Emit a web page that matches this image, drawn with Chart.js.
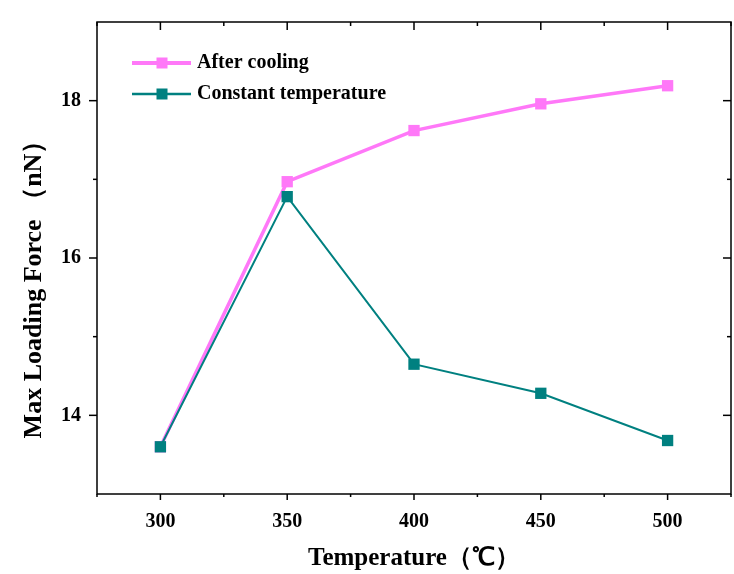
<!DOCTYPE html>
<html><head><meta charset="utf-8">
<script src="https://cdn.jsdelivr.net/npm/chart.js@4/dist/chart.umd.min.js"></script>
<style>html,body{margin:0;padding:0;background:#fff;}#wrap{width:734px;height:574px;}</style>
</head><body><div id="wrap"><canvas id="c" width="734" height="574"></canvas></div>
<script>
const temperatures = [300, 350, 400, 450, 500];
const afterCooling = [13.60, 16.97, 17.62, 17.96, 18.19];
const constantTemp = [13.60, 16.78, 14.65, 14.28, 13.68];
const xTicks = [300, 350, 400, 450, 500];
const yTicks = [14, 16, 18];
const seriesNames = ['After cooling', 'Constant temperature'];
const xTitle = 'Temperature（℃）';
const yTitle = 'Max Loading Force （nN）';

const FONT = '"Liberation Serif", "Times New Roman", serif';
const colors = ['#FF78F8', '#008080'];

const boxPlugin = {
  id: 'boxTicks',
  afterDraw(chart) {
    const ctx = chart.ctx, a = chart.chartArea;
    const xs = chart.scales.x, ys = chart.scales.y;
    ctx.save();
    ctx.strokeStyle = '#000';
    ctx.lineWidth = 1.5;
    ctx.strokeRect(a.left, a.top, a.right - a.left, a.bottom - a.top);
    const seg = (x1, y1, x2, y2) => { ctx.beginPath(); ctx.moveTo(x1, y1); ctx.lineTo(x2, y2); ctx.stroke(); };
    const xMinor = [];
    for (let i = 0; i < xTicks.length - 1; i++) xMinor.push((xTicks[i] + xTicks[i + 1]) / 2);
    xMinor.push(xTicks[0] - (xTicks[1] - xTicks[0]) / 2, xTicks[xTicks.length - 1] + (xTicks[1] - xTicks[0]) / 2);
    const yMinor = [];
    for (let i = 0; i < yTicks.length - 1; i++) yMinor.push((yTicks[i] + yTicks[i + 1]) / 2);
    xTicks.forEach(v => { const p = xs.getPixelForValue(v); seg(p, a.bottom, p, a.bottom + 6); seg(p, a.top, p, a.top + 8); });
    xMinor.forEach(v => { const p = xs.getPixelForValue(v); seg(p, a.bottom, p, a.bottom + 3); seg(p, a.top, p, a.top + 4); });
    yTicks.forEach(v => { const p = ys.getPixelForValue(v); seg(a.left - 8, p, a.left, p); seg(a.right - 8, p, a.right, p); });
    yMinor.forEach(v => { const p = ys.getPixelForValue(v); seg(a.left - 4, p, a.left, p); seg(a.right - 4, p, a.right, p); });
    // y axis title
    ctx.save();
    ctx.translate(34, (a.top + a.bottom) / 2 + 25);
    ctx.rotate(-Math.PI / 2);
    ctx.fillStyle = '#000';
    ctx.font = 'bold 26px ' + FONT;
    ctx.textAlign = 'center';
    ctx.textBaseline = 'middle';
    ctx.fillText(yTitle, 0, 0);
    ctx.restore();
    // legend
    const legendY = [63, 94];
    chart.data.datasets.forEach((ds, i) => {
      const y = legendY[i];
      ctx.strokeStyle = ds.borderColor;
      ctx.lineWidth = ds.borderWidth + 0.5;
      seg(132, y, 191, y);
      ctx.fillStyle = ds.pointBackgroundColor;
      const s = 11;
      ctx.fillRect(162 - s / 2, y - s / 2, s, s);
      ctx.fillStyle = '#000';
      ctx.font = 'bold 20px ' + FONT;
      ctx.textBaseline = 'middle';
      ctx.textAlign = 'left';
      ctx.fillText(ds.label, 197, y);
    });
    ctx.restore();
  }
};

new Chart(document.getElementById('c'), {
  type: 'line',
  data: {
    datasets: [
      {
        label: seriesNames[0],
        data: temperatures.map((t, i) => ({ x: t, y: afterCooling[i] })),
        borderColor: colors[0], backgroundColor: colors[0], pointBackgroundColor: colors[0],
        pointBorderColor: colors[0], borderWidth: 3.5, pointStyle: 'rect', pointRadius: 8,
        pointBorderWidth: 0, order: 1, tension: 0
      },
      {
        label: seriesNames[1],
        data: temperatures.map((t, i) => ({ x: t, y: constantTemp[i] })),
        borderColor: colors[1], backgroundColor: colors[1], pointBackgroundColor: colors[1],
        pointBorderColor: colors[1], borderWidth: 2, pointStyle: 'rect', pointRadius: 8,
        pointBorderWidth: 0, order: 0, tension: 0
      }
    ]
  },
  options: {
    responsive: false,
    animation: false,
    devicePixelRatio: 1,
    layout: { autoPadding: false, padding: { top: 22, right: 3, left: 0, bottom: 0 } },
    plugins: { legend: { display: false }, tooltip: { enabled: false } },
    scales: {
      x: {
        type: 'linear', min: 275, max: 525,
        afterBuildTicks: s => { s.ticks = xTicks.map(v => ({ value: v })); },
        afterFit: s => { s.height = 80; s.paddingLeft = 0; s.paddingRight = 0; s.paddingTop = 0; s.paddingBottom = 0; },
        grid: { display: false, drawTicks: false },
        border: { display: false },
        ticks: { padding: 16, color: '#000', font: { family: FONT, size: 20, weight: 'bold' } },
        title: { display: true, text: xTitle, color: '#000', padding: { top: 0, bottom: 0 },
                 font: { family: FONT, size: 25, weight: 'bold' } }
      },
      y: {
        type: 'linear', min: 13, max: 19,
        afterBuildTicks: s => { s.ticks = yTicks.map(v => ({ value: v })); },
        afterFit: s => { s.width = 97; s.paddingLeft = 0; s.paddingRight = 0; s.paddingTop = 0; s.paddingBottom = 0; },
        grid: { display: false, drawTicks: false },
        border: { display: false },
        ticks: { padding: 16, color: '#000', font: { family: FONT, size: 20, weight: 'bold' } },
        title: { display: false }
      }
    }
  },
  plugins: [boxPlugin]
});
</script>
</body></html>
